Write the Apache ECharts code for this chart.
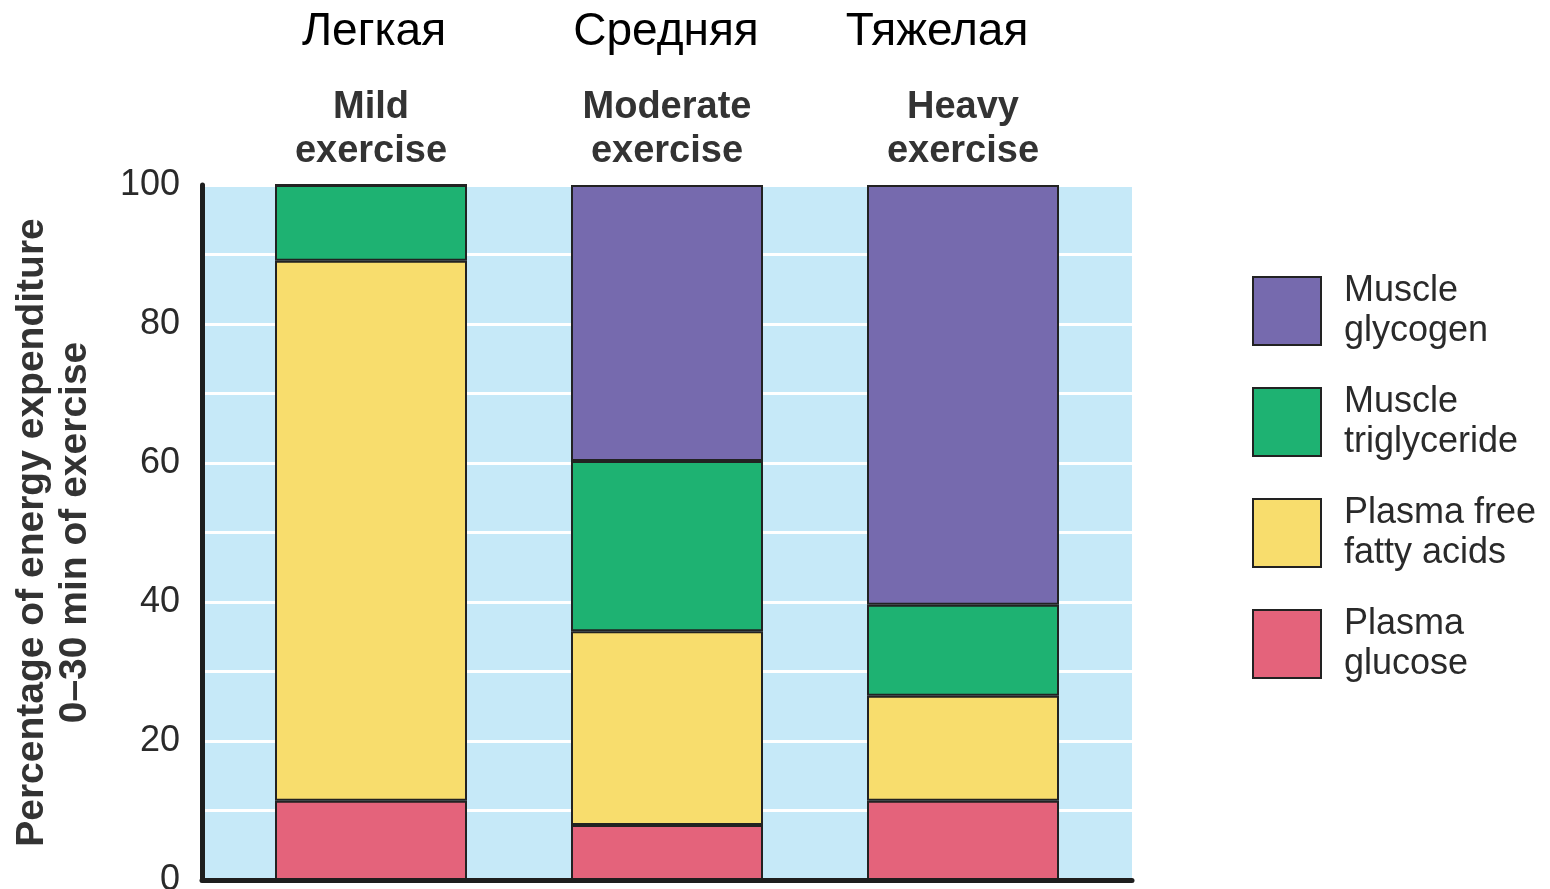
<!DOCTYPE html>
<html>
<head>
<meta charset="utf-8">
<title>Energy sources during exercise</title>
<script src="https://cdn.jsdelivr.net/npm/echarts@6/dist/echarts.min.js"></script>
<style>
  html, body { margin: 0; padding: 0; background: #fff; }
  #chart { width: 1550px; height: 889px; }
</style>
</head>
<body>
<div id="chart"></div>
<script>
// categories (top labels) and russian captions
const categories = ['Mild\nexercise', 'Moderate\nexercise', 'Heavy\nexercise'];
const ruLabels = ['Легкая', 'Средняя', 'Тяжелая'];

// % of energy expenditure, 0-30 min of exercise (stacked from bottom)
const plasmaGlucose = [11.4, 7.9, 11.4];
const plasmaFFA = [77.7, 27.9, 15.1];
const muscleTriglyceride = [10.9, 24.5, 13.1];
const muscleGlycogen = [0, 39.7, 60.4];

const yTicks = [0, 20, 40, 60, 80, 100];

const legendNames = {
  'Muscle glycogen': 'Muscle\nglycogen',
  'Muscle triglyceride': 'Muscle\ntriglyceride',
  'Plasma free fatty acids': 'Plasma free\nfatty acids',
  'Plasma glucose': 'Plasma\nglucose'
};

const colors = {
  glycogen: '#766AAE',
  trig: '#1EB272',
  ffa: '#F8DD6D',
  glucose: '#E4637B'
};

const font = 'Liberation Sans, Arial, Helvetica, sans-serif';
const chart = echarts.init(document.getElementById('chart'), null, { renderer: 'canvas' });

// bar helper
function barSeries(name, data, color) {
  return {
    name: name,
    type: 'bar',
    xAxisIndex: 1,
    yAxisIndex: 1,
    stack: 'total',
    barWidth: 192,
    data: data,
    itemStyle: { color: color, borderColor: '#222', borderWidth: 2 },
    emphasis: { disabled: true }
  };
}

const plotTop = 185, plotBottom = 889 - 880;

const option = {
  backgroundColor: '#fff',
  animation: false,
  textStyle: { fontFamily: font },
  title: ruLabels.map((t, i) => ({
    text: t,
    left: [369, 661, 932][i],
    top: 4,
    textAlign: 'center',
    textStyle: { fontFamily: font, fontSize: 46, fontWeight: 'normal', color: '#000' }
  })),
  legend: {
    orient: 'vertical',
    left: 1247,
    top: 266,
    itemWidth: 68,
    itemHeight: 68,
    itemGap: 31,
    icon: 'rect',
    selectedMode: false,
    data: ['Muscle glycogen', 'Muscle triglyceride', 'Plasma free fatty acids', 'Plasma glucose'],
    formatter: name => legendNames[name],
    textStyle: {
      fontFamily: font,
      fontSize: 36,
      lineHeight: 40,
      color: '#2a2a2a',
      padding: [0, 0, 0, 18]
    }
  },
  grid: [
    // background / axes
    {
      left: 202, width: 930, top: plotTop, bottom: plotBottom,
      outerBoundsMode: 'none', containLabel: false,
      show: true, backgroundColor: '#C6E9F8', borderWidth: 0
    },
    // bars
    { left: 223, width: 888, top: plotTop, bottom: plotBottom, outerBoundsMode: 'none', containLabel: false }
  ],
  xAxis: [
    {
      gridIndex: 0,
      type: 'value',
      min: 0,
      max: 1,
      z: 10,
      axisLine: { show: true, onZero: false, lineStyle: { color: '#1e1e1e', width: 5 } },
      axisTick: { show: false },
      axisLabel: { show: false },
      splitLine: { show: false }
    },
    {
      gridIndex: 1,
      type: 'category',
      position: 'top',
      data: categories,
      axisLine: { show: false },
      axisTick: { show: false },
      axisLabel: {
        margin: 11,
        fontFamily: font,
        fontSize: 38,
        fontWeight: 'bold',
        lineHeight: 44,
        color: '#333'
      }
    }
  ],
  yAxis: [
    {
      gridIndex: 0,
      type: 'value',
      min: 0,
      max: 100,
      interval: 10,
      name: 'Percentage of energy expenditure\n0–30 min of exercise',
      nameLocation: 'middle',
      nameRotate: 90,
      nameGap: 105,
      nameTextStyle: {
        fontFamily: font,
        fontSize: 39,
        fontWeight: 'bold',
        lineHeight: 43,
        color: '#333'
      },
      axisLine: { show: true, lineStyle: { color: '#1e1e1e', width: 5 } },
      axisTick: { show: false },
      axisLabel: {
        margin: 22,
        fontFamily: font,
        fontSize: 36,
        color: '#2a2a2a',
        formatter: v => (yTicks.indexOf(v) >= 0 ? String(v) : '')
      },
      splitLine: { show: true, lineStyle: { color: '#fff', width: 3 } }
    },
    {
      gridIndex: 1,
      type: 'value',
      min: 0,
      max: 100,
      show: false,
      splitLine: { show: false }
    }
  ],
  series: [
    barSeries('Plasma glucose', plasmaGlucose, colors.glucose),
    barSeries('Plasma free fatty acids', plasmaFFA, colors.ffa),
    barSeries('Muscle triglyceride', muscleTriglyceride, colors.trig),
    barSeries('Muscle glycogen', muscleGlycogen, colors.glycogen)
  ]
};

chart.setOption(option);
</script>
</body>
</html>
